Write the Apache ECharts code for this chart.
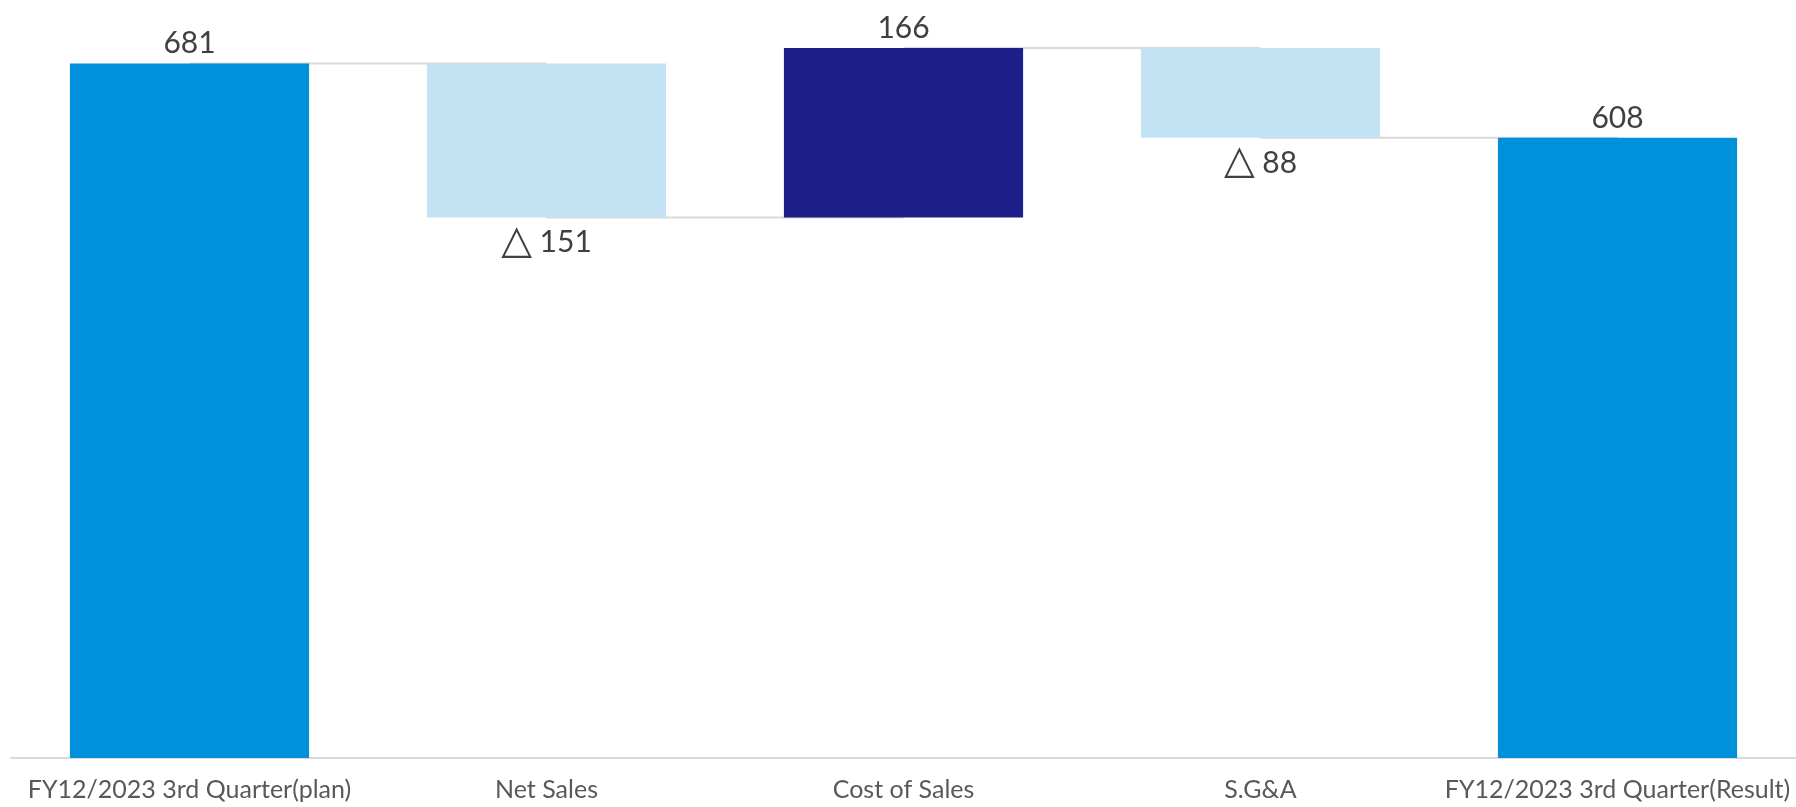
<!DOCTYPE html>
<html>
<head>
<meta charset="utf-8">
<script src="https://cdn.jsdelivr.net/npm/echarts@6/dist/echarts.min.js"></script>
<style>
  html, body { margin: 0; padding: 0; background: #ffffff; }
  #chart { width: 1796px; height: 807px; }
</style>
</head>
<body>
<div id="chart"></div>
<script>
// Operating profit bridge: plan -> result
const categories = [
  'FY12/2023 3rd Quarter(plan)',
  'Net Sales',
  'Cost of Sales',
  'S.G&A',
  'FY12/2023 3rd Quarter(Result)'
];
const startTotal = 681;
const changes = [-151, 166, -88];   // Net Sales, Cost of Sales, S.G&A
const endTotal = 608;

const COLOR_TOTAL = '#0091da';
const COLOR_UP = '#1e1f88';
const COLOR_DOWN = '#c3e3f5';
const CONNECTOR = '#d9d9d9';
const TEXT = '#404040';

// Build floating bars: invisible base + visible step
const base = [0];
const steps = [{ value: startTotal, itemStyle: { color: COLOR_TOTAL }, label: { position: 'top' } }];
const levels = [startTotal];
let running = startTotal;
changes.forEach(d => {
  const next = running + d;
  base.push(Math.min(running, next));
  if (d >= 0) {
    steps.push({ value: d, itemStyle: { color: COLOR_UP }, label: { position: 'top' } });
  } else {
    steps.push({
      value: -d,
      itemStyle: { color: COLOR_DOWN },
      label: { position: 'bottom', distance: 7, formatter: '{t|△} {c}' }
    });
  }
  running = next;
  levels.push(running);
});
base.push(0);
steps.push({ value: endTotal, itemStyle: { color: COLOR_TOTAL }, label: { position: 'top' } });
levels.push(endTotal);

// Connector lines between neighbouring bars
const connectors = [];
for (let i = 0; i < categories.length - 1; i++) {
  const row = categories.map(() => '-');
  row[i] = levels[i];
  row[i + 1] = levels[i];
  connectors.push({
    type: 'line',
    data: row,
    symbol: 'none',
    silent: true,
    z: 1,
    lineStyle: { color: CONNECTOR, width: 2 },
    connectNulls: false
  });
}

const chart = echarts.init(document.getElementById('chart'));
chart.setOption({
  animation: false,
  backgroundColor: '#ffffff',
  grid: { left: 11, right: 0, top: 44, bottom: 49, containLabel: false },
  xAxis: {
    type: 'category',
    data: categories,
    axisTick: { show: false },
    axisLine: { lineStyle: { color: CONNECTOR, width: 2 } },
    axisLabel: {
      color: '#595959',
      fontFamily: 'Lato',
      fontSize: 25,
      margin: 19,
      interval: 0
    }
  },
  yAxis: {
    type: 'value',
    min: 0,
    max: 700,
    show: false,
    splitLine: { show: false }
  },
  series: [
    ...connectors,
    {
      type: 'bar',
      stack: 'bridge',
      data: base,
      barCategoryGap: '33%',
      itemStyle: { color: 'transparent' },
      silent: true,
      z: 3
    },
    {
      type: 'bar',
      stack: 'bridge',
      data: steps,
      barCategoryGap: '33%',
      z: 3,
      label: {
        show: true,
        color: TEXT,
        fontFamily: 'Lato',
        fontSize: 30,
        distance: 5,
        rich: {
          t: { fontFamily: 'DejaVu Sans', fontSize: 40, color: TEXT, lineHeight: 36 }
        }
      }
    }
  ]
});
</script>
</body>
</html>
